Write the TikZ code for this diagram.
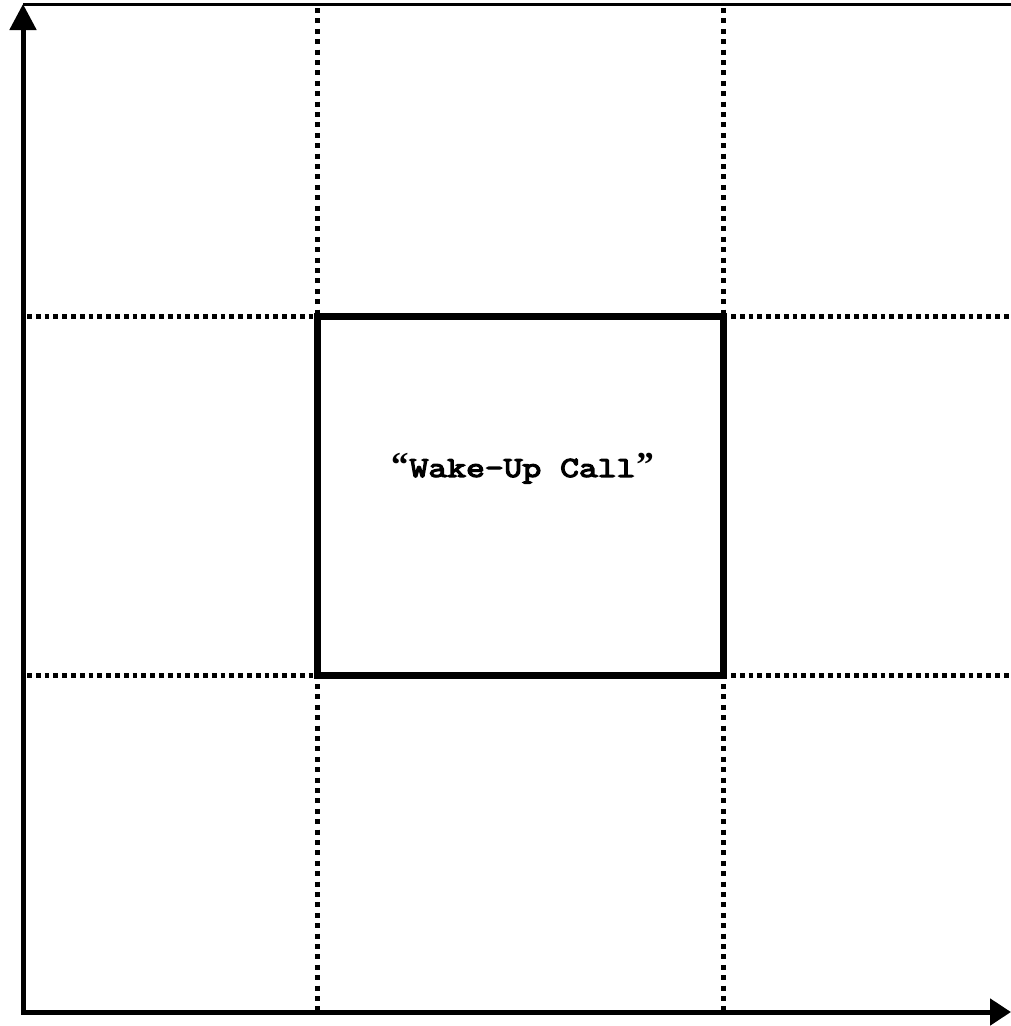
\documentclass[tikz,border=0pt]{standalone}
\usepackage{fontspec}
\newfontfamily\monob[FakeBold=4.5, FakeStretch=1.26]{Latin Modern Mono}
\newfontfamily\quotefont{Liberation Serif Bold}
\newcommand{\qcell}[1]{\makebox[19.2pt][c]{\quotefont\fontsize{35}{35}\selectfont #1}}
\usetikzlibrary{arrows.meta}
\tikzset{
  axisline/.style={line width=5pt},
  hdots/.style={line width=5pt, dash pattern=on 4.8pt off 4pt},
  vdots/.style={line width=5pt, dash pattern=on 5pt off 5.4pt},
  boxline/.style={line width=7pt, line join=miter},
  toprule/.style={line width=2.4pt},
  label/.style={font=\monob\fontsize{29}{34}\selectfont, inner sep=0pt}
}
\begin{document}
\begin{tikzpicture}[x=1pt,y=-1pt]
\useasboundingbox (0,0) rectangle (1011,1026);
\coordinate (O) at (23,1012);
\coordinate (ytop) at (23,4);
\coordinate (xend) at (1011,1012);
\coordinate (tl) at (23,4.5);
\coordinate (tr) at (1011,4.5);
% dotted grid
\coordinate (v1t) at (317.5,8);
\coordinate (v1b) at (317.5,1010);
\coordinate (v2t) at (723,8);
\coordinate (v2b) at (723,1010);
\coordinate (h1l) at (27,316);
\coordinate (h1r) at (1011,316);
\coordinate (h2l) at (27,675.5);
\coordinate (h2r) at (1011,675.5);
\draw[vdots] (v1t) -- (v1b);
\draw[vdots] (v2t) -- (v2b);
\draw[hdots] (h1l) -- (h1r);
\draw[hdots] (h2l) -- (h2r);
% box
\coordinate (b1) at (317.5,316);
\coordinate (b2) at (723,675.5);
\draw[boxline] (b1) rectangle (b2);
\node[label] (wake) at (522.5,468.5) {\qcell{“}Wake-Up Call\qcell{”}};
% top rule
\draw[toprule] (tl) -- (tr);
% axes
\draw[axisline, {Triangle[length=26pt,width=26pt]}-{Triangle[length=21pt,width=26pt]}] (ytop) -- (O) -- (xend);
\end{tikzpicture}
\end{document}
